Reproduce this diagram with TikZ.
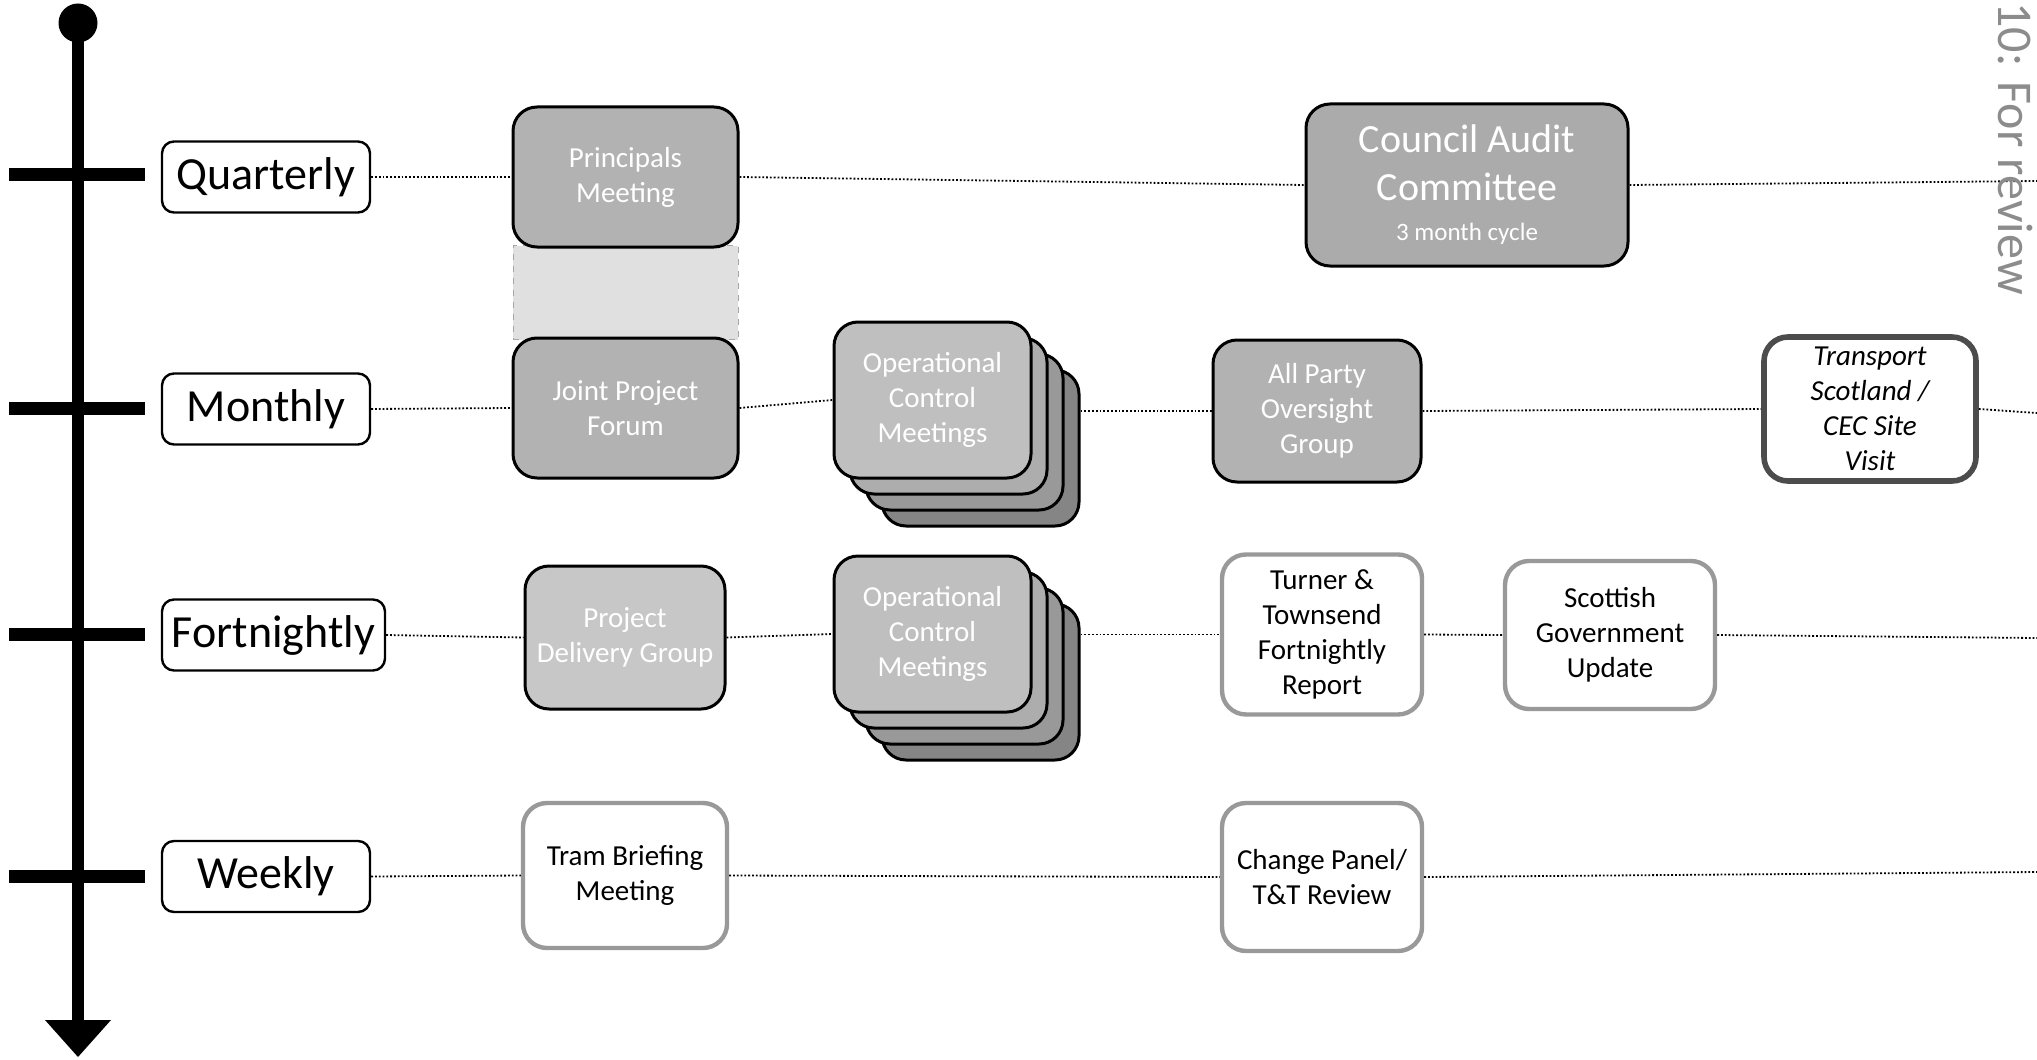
\documentclass[tikz,border=0pt]{standalone}
\usepackage{fontspec}
\setmainfont{Carlito}
\begin{document}
\begin{tikzpicture}[x=0.5pt,y=-0.5pt,
  lbl/.style={draw=black, line width=1.2pt, rounded corners=6pt, fill=white,
    font=\fontsize{23}{27}\selectfont, inner sep=0pt, minimum width=104pt, minimum height=35.5pt},
  gbox/.style={draw=black, line width=1.5pt, rounded corners=12pt, text=white, align=center,
    font=\fontsize{14.5}{17.5}\selectfont, inner sep=0pt},
  wbox/.style={draw=black!40, line width=2.2pt, rounded corners=12pt, fill=white, align=center,
    font=\fontsize{14.5}{17.5}\selectfont, inner sep=0pt},
  tsbox/.style={draw=black!70, line width=2.8pt, rounded corners=12pt, fill=white, align=center,
    font=\itshape\fontsize{14.5}{17.5}\selectfont, inner sep=0pt},
  conn/.style={densely dotted, line width=0.9pt},
  axis/.style={line width=6pt},
  tick/.style={line width=6.5pt}
]
\useasboundingbox (0,0) rectangle (2037,1059);

% timeline
\coordinate (top) at (78,23);
\coordinate (bot) at (78,1022);
\fill (top) circle[radius=9.75pt];
\draw[axis] (top) -- (bot);
\fill (45,1020) -- (111,1020) -- (78,1057) -- cycle;
\draw[tick] (9,175) -- (145,175);
\draw[tick] (9,408) -- (145,408);
\draw[tick] (9,634) -- (145,634);
\draw[tick] (9,876) -- (145,876);

% frequency labels
\node[lbl] (Q) at (266,177) {Quarterly};
\node[lbl] (M) at (266,409) {Monthly};
\node[lbl, minimum width=111.5pt] (F) at (273.5,635) {Fortnightly};
\node[lbl] (W) at (266,876.5) {Weekly};

% link between Principals and Joint Project Forum
\node[draw=black!35, dashed, fill=black!12, minimum width=112.5pt, minimum height=47pt, inner sep=0pt] (link) at (625.5,292.5) {};

% quarterly
\node[gbox, fill=black!30, minimum width=112.5pt, minimum height=70pt] (PM) at (625.5,177) {Principals\\Meeting};
\node[gbox, fill=black!33, minimum width=161pt, minimum height=81pt,
  font=\fontsize{20}{24}\selectfont] (CAC) at (1467,185) {Council Audit\\Committee\\[-4pt]{\fontsize{12.5}{14}\selectfont 3 month cycle}};

% monthly
\node[gbox, fill=black!30, minimum width=112.5pt, minimum height=70pt] (JPF) at (625.5,408) {Joint Project\\Forum};
\node[gbox, fill=black!48, minimum width=98.5pt, minimum height=78pt] (OCMc) at (980.5,448) {};
\node[gbox, fill=black!40, minimum width=98.5pt, minimum height=78pt] (OCMb) at (964.5,432) {};
\node[gbox, fill=black!32, minimum width=98.5pt, minimum height=78pt] (OCMa) at (948.5,416) {};
\node[gbox, fill=black!25, minimum width=98.5pt, minimum height=78pt] (OCM) at (932.5,400) {Operational\\Control\\Meetings};
\node[gbox, fill=black!30, minimum width=104pt, minimum height=71pt] (APOG) at (1317,411) {All Party\\Oversight\\Group};
\node[tsbox, minimum width=106pt, minimum height=72pt] (TS) at (1870,409) {Transport\\Scotland /\\CEC Site\\Visit};

% fortnightly
\node[gbox, fill=black!22, minimum width=100pt, minimum height=71.5pt] (PDG) at (625,637.5) {Project\\Delivery Group};
\node[gbox, fill=black!48, minimum width=98.5pt, minimum height=78pt] (OCNc) at (980.5,682) {};
\node[gbox, fill=black!40, minimum width=98.5pt, minimum height=78pt] (OCNb) at (964.5,666) {};
\node[gbox, fill=black!32, minimum width=98.5pt, minimum height=78pt] (OCNa) at (948.5,650) {};
\node[gbox, fill=black!25, minimum width=98.5pt, minimum height=78pt] (OCN) at (932.5,634) {Operational\\Control\\Meetings};
\node[wbox, minimum width=100pt, minimum height=80pt] (TT) at (1322,634.5) {Turner \&\\Townsend\\Fortnightly\\Report};
\node[wbox, minimum width=105pt, minimum height=74pt] (SGU) at (1610,635) {Scottish\\Government\\Update};

% weekly
\node[wbox, minimum width=102pt, minimum height=72.5pt] (TBM) at (625,875.5) {Tram Briefing\\Meeting};
\node[wbox, minimum width=100pt, minimum height=74pt] (CP) at (1322,877) {Change Panel/\\T\&T Review};

% right-edge ends
\coordinate (qe) at (2037,181);
\coordinate (me) at (2037,413);
\coordinate (fe) at (2037,638);
\coordinate (we) at (2037,872);

% connectors
\draw[conn] (Q.east) -- (PM.west);
\draw[conn] (PM.east) -- (CAC.west);
\draw[conn] (CAC.east) -- (qe);

\draw[conn] (M.east) -- (JPF.west);
\draw[conn] (JPF.east) -- (OCM.west);
\draw[conn] (APOG.west -| OCMc.east) -- (APOG.west);
\draw[conn] (APOG.east) -- (TS.west);
\draw[conn] (TS.east) -- (me);

\draw[conn] (F.east) -- (PDG.west);
\draw[conn] (PDG.east) -- (OCN.west);
\draw[conn] (TT.west -| OCNc.east) -- (TT.west);
\draw[conn] (TT.east) -- (SGU.west);
\draw[conn] (SGU.east) -- (fe);

\draw[conn] (W.east) -- (TBM.west);
\draw[conn] (TBM.east) -- (CP.west);
\draw[conn] (CP.east) -- (we);

% watermark
\node[rotate=-90, anchor=base west, inner sep=0pt, text=black!45,
  font=\fontsize{25}{30}\selectfont] (wm) at (1998,2) {10: For review};
\end{tikzpicture}
\end{document}
